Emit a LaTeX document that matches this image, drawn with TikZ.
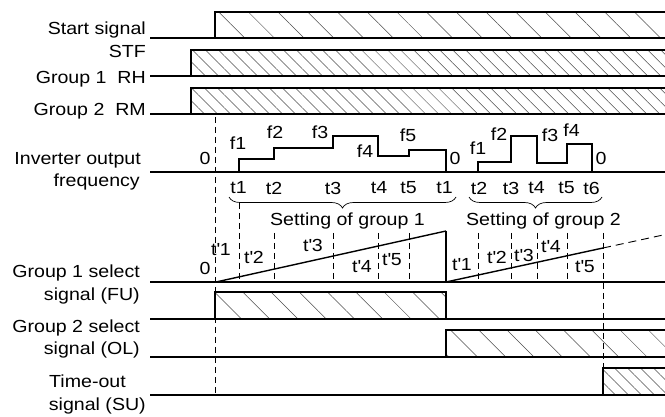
\documentclass[tikz,border=0pt]{standalone}
\usepackage{fontspec}
\setmainfont{Liberation Sans}[FakeStretch=1.12]
\usetikzlibrary{patterns.meta,decorations.pathreplacing}
\newcommand{\tp}[1]{t\textquotesingle#1}
\begin{document}
\begin{tikzpicture}[x=1pt,y=-1pt,
  sig/.style={line width=2pt},
  ramp/.style={line width=1.4pt},
  dsh/.style={line width=0.9pt,dash pattern=on 6pt off 4pt},
  lbl/.style={font=\fontsize{17.5}{20}\selectfont, inner sep=0pt},
  hwide/.style={pattern={Lines[angle=-45,distance=20pt,line width=0.5pt]},pattern color=black!70},
  hstart/.style={pattern={Lines[angle=-45,distance=21pt,line width=0.5pt]},pattern color=black!70},
  hdense/.style={pattern={Lines[angle=-45,distance=9.2pt,line width=0.5pt]},pattern color=black!70},
  brc/.style={decorate,decoration={brace,mirror,amplitude=11pt},line width=0.7pt}]
\useasboundingbox (0,0) rectangle (665,417);

% hatched areas
\fill[hstart] (215,12) rectangle (665,38);
\fill[hdense] (191,50) rectangle (665,76);
\fill[hdense] (191,88) rectangle (665,114);
\fill[hwide] (215,292) rectangle (446,319);
\fill[hwide] (446,330) rectangle (665,357);
\fill[hdense] (603,368) rectangle (665,395);

% dashed verticals
\draw[dsh] (215,117) -- (215,395);
\draw[dsh] (239,203) -- (239,282);
\foreach \x in {274,333,378,409,478,511,537,567} \draw[dsh] (\x,233) -- (\x,282);
\draw[dsh] (603,233) -- (603,368);

% signals
\draw[sig] (150,38) -- (665,38);  \draw[sig] (215,38) |- (665,12);
\draw[sig] (150,76) -- (665,76);  \draw[sig] (191,76) |- (665,50);
\draw[sig] (150,114) -- (665,114); \draw[sig] (191,114) |- (665,88);

% inverter output frequency
\draw[sig] (150,172) -- (665,172);
\draw[sig] (239,172) -- (239,159) -- (274,159) -- (274,148) -- (333,148) -- (333,136)
  -- (378,136) -- (378,156) -- (409,156) -- (409,150) -- (446,150) -- (446,172);
\draw[sig] (478,172) -- (478,162) -- (511,162) -- (511,136) -- (537,136) -- (537,163)
  -- (567,163) -- (567,144) -- (592,144) -- (592,172);

% ramps
\draw[sig] (150,282) -- (665,282);
\draw[ramp] (216,282) -- (446,231);
\draw[sig] (446,231) -- (446,282);
\draw[ramp] (446,282) -- (603,248);
\draw[line width=0.9pt,dash pattern=on 8pt off 5pt] (603,248) -- (665,234.6);

% select signals
\draw[sig] (150,319) -- (665,319); \draw[sig] (215,319) |- (446,292) -- (446,319);
\draw[sig] (150,357) -- (665,357); \draw[sig] (446,357) |- (665,330);
\draw[sig] (150,395) -- (665,395); \draw[sig] (603,395) |- (665,368);

% braces
\draw[brc] (229,197) -- (456,197);
\draw[brc] (469,197) -- (602,197);

% left labels
\node[lbl,anchor=base east] (ls) at (146,35) {Start signal};
\node[lbl,anchor=base east] (lstf) at (146,58) {STF};
\node[lbl,anchor=base east] (lrh) at (146,84) {Group 1~~RH};
\node[lbl,anchor=base east] (lrm) at (146,116) {Group 2~~RM};
\node[lbl,anchor=base east] (li1) at (141,165) {Inverter output};
\node[lbl,anchor=base east] (li2) at (140,187) {frequency};
\node[lbl,anchor=base east] (lg1a) at (140,277) {Group 1 select};
\node[lbl,anchor=base east] (lg1b) at (140,301) {signal (FU)};
\node[lbl,anchor=base east] (lg2a) at (140,332) {Group 2 select};
\node[lbl,anchor=base east] (lg2b) at (140,355) {signal (OL)};
\node[lbl,anchor=base west] (lt1) at (49,388) {Time-out};
\node[lbl,anchor=base east] (lt2) at (146,410) {signal (SU)};

% frequency labels
\node[lbl] (z0) at (205,158.5) {0};
\node[lbl] (a1) at (238,143) {f1};
\node[lbl] (a2) at (275,132) {f2};
\node[lbl] (a3) at (320,132) {f3};
\node[lbl] (a4) at (365,151) {f4};
\node[lbl] (a5) at (408,135) {f5};
\node[lbl] (z1) at (455,158.5) {0};
\node[lbl] (b1) at (478,148) {f1};
\node[lbl] (b2) at (499,134.5) {f2};
\node[lbl] (b3) at (550,135) {f3};
\node[lbl] (b4) at (571.5,130) {f4};
\node[lbl] (z2) at (601,158.5) {0};

% time labels
\node[lbl] (c1) at (238.5,188) {t1};
\node[lbl] (c2) at (274,188) {t2};
\node[lbl] (c3) at (333,188) {t3};
\node[lbl] (c4) at (379,188) {t4};
\node[lbl] (c5) at (408.5,188) {t5};
\node[lbl] (c6) at (444.5,188) {t1};
\node[lbl] (d2) at (479,188) {t2};
\node[lbl] (d3) at (511,188) {t3};
\node[lbl] (d4) at (536.5,188) {t4};
\node[lbl] (d5) at (566.5,188) {t5};
\node[lbl] (d6) at (591.5,188) {t6};

\node[lbl,anchor=base] (s1) at (347.5,226) {Setting of group 1};
\node[lbl,anchor=base] (s2) at (543.5,226) {Setting of group 2};

% ramp labels
\node[lbl] (r0) at (205,268.5) {0};
\node[lbl] (e1) at (221,250) {\tp1};
\node[lbl] (e2) at (254,257.5) {\tp2};
\node[lbl] (e3) at (313,245.5) {\tp3};
\node[lbl] (e4) at (362,266.5) {\tp4};
\node[lbl] (e5) at (392,259.5) {\tp5};
\node[lbl] (g1) at (462,265) {\tp1};
\node[lbl] (g2) at (497,257) {\tp2};
\node[lbl] (g3) at (524,255) {\tp3};
\node[lbl] (g4) at (551,247) {\tp4};
\node[lbl] (g5) at (585,267) {\tp5};
\end{tikzpicture}
\end{document}
